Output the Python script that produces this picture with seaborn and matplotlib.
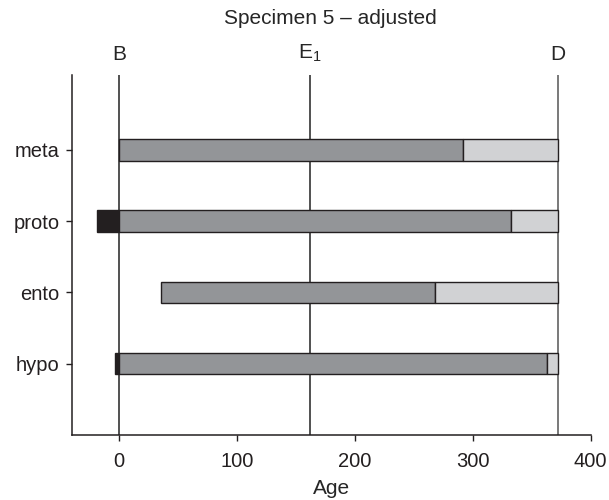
import pandas as pd
import seaborn as sns
import matplotlib.pyplot as plt

# parts and segment bounds (Age)
parts = ['meta', 'proto', 'ento', 'hypo']
start_black = [0, -18.4, 35.4, -3.7]
start_dark = [0, 0, 35.4, 0]
end_dark = [291.6, 332.6, 268.0, 362.9]
end_light = [372, 372, 372, 372]

events = ['B', 'E$_1$', 'D']
event_ages = [0, 162, 372]

df = pd.DataFrame({
    'part': parts,
    'black': [d - b for b, d in zip(start_black, start_dark)],
    'dark': [e - s for s, e in zip(start_dark, end_dark)],
    'light': [l - e for e, l in zip(end_dark, end_light)],
    'black_left': start_black,
    'dark_left': start_dark,
    'light_left': end_dark,
})

sns.set_style('ticks')
plt.rcParams['font.family'] = ['Liberation Sans', 'DejaVu Sans']
plt.rcParams['mathtext.default'] = 'regular'

fig = plt.figure(figsize=(6.09, 5.0), dpi=100)
ax = fig.add_axes([0.118, 0.13, 0.852, 0.72])

# event lines, drawn behind the bars
line_colors = ['#222222', '#222222', '#555555']
for age, c in zip(event_ages, line_colors):
    ax.axvline(age, color=c, lw=1.1, zorder=0)

colors = {'black': '#231f20', 'dark': '#939598', 'light': '#d1d2d4'}
for seg in ['black', 'dark', 'light']:
    sub = df[df[seg] > 0]
    sns.barplot(data=sub, x=seg, y='part', order=parts, orient='h',
                left=sub[seg + '_left'], color=colors[seg], saturation=1,
                width=0.3, edgecolor='#231f20', linewidth=1.0, ax=ax, zorder=2)

ax.set_xlim(-40, 400)
ax.set_ylim(4.0, -1.05)
ax.set_xticks([0, 100, 200, 300, 400])
ax.set_xlabel('Age', fontsize=15, labelpad=6)
ax.set_ylabel('')
ax.tick_params(axis='both', labelsize=14.5, length=4, width=1, colors='#231f20')
ax.tick_params(axis='x', pad=8)
ax.tick_params(axis='y', pad=5)
sns.despine(ax=ax)
for s in ['left', 'bottom']:
    ax.spines[s].set_linewidth(1.1)
    ax.spines[s].set_color('#231f20')

for age, lab in zip(event_ages, events):
    ax.text(age, 1.03, lab, transform=ax.get_xaxis_transform(),
            ha='center', va='bottom', fontsize=15)

fig.text(0.543, 0.962, 'Specimen 5 – adjusted', ha='center', va='center', fontsize=15)

fig.savefig('out.png', dpi=100)
